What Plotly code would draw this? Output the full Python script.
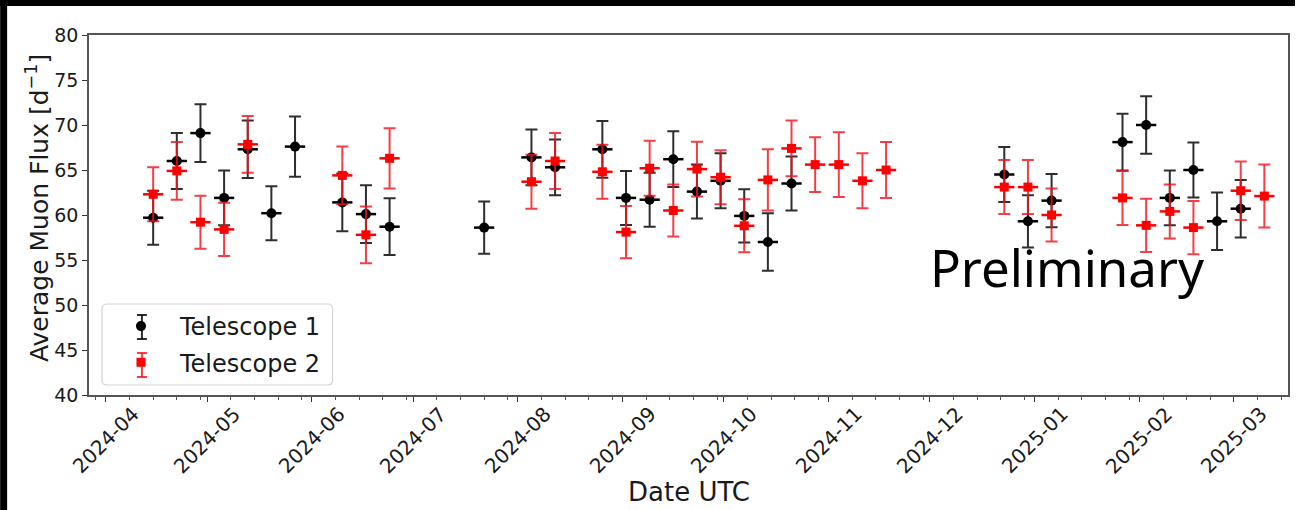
import plotly.graph_objects as go
import pandas as pd

# ---------------- data ----------------
t1_dates = ["2024-04-15", "2024-04-22", "2024-04-29", "2024-05-06", "2024-05-13", "2024-05-20",
            "2024-05-27", "2024-06-10", "2024-06-17", "2024-06-24", "2024-07-22", "2024-08-05",
            "2024-08-12", "2024-08-26", "2024-09-02", "2024-09-09", "2024-09-16", "2024-09-23",
            "2024-09-30", "2024-10-07", "2024-10-14", "2024-10-21", "2024-12-23", "2024-12-30",
            "2025-01-06", "2025-01-27", "2025-02-03", "2025-02-10", "2025-02-17", "2025-02-24",
            "2025-03-03"]
t1_flux = [59.7, 66.0, 69.1, 61.9, 67.3, 60.2, 67.6, 61.4, 60.1, 58.7, 58.6, 66.4,
           65.3, 67.3, 61.9, 61.7, 66.2, 62.6, 63.8, 59.9, 57.0, 63.5, 64.5, 59.3,
           61.6, 68.1, 70.0, 61.9, 65.0, 59.3, 60.7]
t1_err = [3.0, 3.1, 3.2, 3.05, 3.2, 3.0, 3.35, 3.2, 3.2, 3.15, 2.9, 3.1,
          3.1, 3.15, 3.0, 3.0, 3.1, 3.0, 3.05, 2.95, 3.2, 3.0, 3.05, 2.9,
          2.95, 3.15, 3.2, 3.05, 3.05, 3.2, 3.2]

t2_dates = ["2024-04-15", "2024-04-22", "2024-04-29", "2024-05-06", "2024-05-13", "2024-06-10",
            "2024-06-17", "2024-06-24", "2024-08-05", "2024-08-12", "2024-08-26", "2024-09-02",
            "2024-09-09", "2024-09-16", "2024-09-23", "2024-09-30", "2024-10-07", "2024-10-14",
            "2024-10-21", "2024-10-28", "2024-11-04", "2024-11-11", "2024-11-18", "2024-12-23",
            "2024-12-30", "2025-01-06", "2025-01-27", "2025-02-03", "2025-02-10", "2025-02-17",
            "2025-03-03", "2025-03-10"]
t2_flux = [62.3, 64.9, 59.2, 58.4, 67.85, 64.4, 57.8, 66.3, 63.7, 66.0, 64.8, 58.1,
           65.2, 60.5, 65.1, 64.2, 58.8, 63.9, 67.4, 65.6, 65.6, 63.8, 65.0, 63.1,
           63.1, 60.0, 61.9, 58.85, 60.4, 58.6, 62.7, 62.1]
t2_err = [3.0, 3.2, 2.95, 2.95, 3.15, 3.2, 3.15, 3.35, 3.0, 3.1, 3.0, 2.9,
          3.05, 2.9, 3.05, 3.0, 2.95, 3.4, 3.1, 3.05, 3.6, 3.05, 3.1, 3.0,
          3.0, 2.95, 3.0, 2.95, 3.0, 2.95, 3.25, 3.5]

bin_half_days = 3.0
month_ticks = ["2024-04-01", "2024-05-01", "2024-06-01", "2024-07-01", "2024-08-01", "2024-09-01",
               "2024-10-01", "2024-11-01", "2024-12-01", "2025-01-01", "2025-02-01", "2025-03-01"]
month_labels = ["2024-04", "2024-05", "2024-06", "2024-07", "2024-08", "2024-09",
                "2024-10", "2024-11", "2024-12", "2025-01", "2025-02", "2025-03"]
x_range = ["2024-03-27", "2025-03-17"]
y_range = [40, 80]
y_ticks = [40, 45, 50, 55, 60, 65, 70, 75, 80]

# minor ticks on days 1, 8, 15, 22, 29 of each month
minor_vals = []
for d in pd.date_range("2024-03-01", "2025-03-31", freq="D"):
    if d.day in (1, 8, 15, 22, 29):
        minor_vals.append(d.strftime("%Y-%m-%d"))

# ---------------- geometry ----------------
W, H = 1297, 510
L, R, T, B = 89, 7, 35, 115
PW = W - L - R
PH = H - T - B


def px_x(px):
    return (px - L) / PW


def px_y(py):
    return (H - B - py) / PH


def hbars(dates, vals, half):
    xs, ys = [], []
    for d, v in zip(dates, vals):
        c = pd.Timestamp(d)
        xs += [c - pd.Timedelta(days=half), c + pd.Timedelta(days=half), None]
        ys += [v, v, None]
    return xs, ys


fig = go.Figure()

hx1, hy1 = hbars(t1_dates, t1_flux, bin_half_days)
fig.add_trace(go.Scatter(x=hx1, y=hy1, mode="lines", line=dict(color="black", width=2.5),
                         showlegend=False, hoverinfo="skip"))
fig.add_trace(go.Scatter(
    x=t1_dates, y=t1_flux, mode="markers", name="Telescope 1", legendgroup="t1",
    marker=dict(symbol="circle", size=10, color="black"),
    error_y=dict(type="data", array=t1_err, visible=True, color="rgba(0,0,0,0.82)",
                 thickness=2, width=6),
))
hx2, hy2 = hbars(t2_dates, t2_flux, bin_half_days)
fig.add_trace(go.Scatter(x=hx2, y=hy2, mode="lines", line=dict(color="#ff0000", width=2.5),
                         showlegend=False, hoverinfo="skip"))
fig.add_trace(go.Scatter(
    x=t2_dates, y=t2_flux, mode="markers", name="Telescope 2", legendgroup="t2",
    marker=dict(symbol="square", size=9, color="#ff0000"),
    error_y=dict(type="data", array=t2_err, visible=True, color="rgba(240,20,30,0.82)",
                 thickness=2, width=6),
))

annotations = []
for tv, tl in zip(month_ticks, month_labels):
    annotations.append(dict(
        x=tv, y=px_y(440), xref="x", yref="paper", text=tl, showarrow=False,
        textangle=-45, xanchor="center", yanchor="middle",
        font=dict(family="DejaVu Sans", size=20, color="#1a1a1a"),
    ))
annotations.append(dict(
    x=px_x(690), y=px_y(492), xref="paper", yref="paper", text="Date UTC",
    showarrow=False, xanchor="center", yanchor="middle",
    font=dict(family="DejaVu Sans", size=26, color="#1a1a1a"),
))
annotations.append(dict(
    x=px_x(38), y=px_y(208), xref="paper", yref="paper",
    text="Average Muon Flux [d<sup>\u22121</sup>]",
    showarrow=False, textangle=-90, xanchor="center", yanchor="middle",
    font=dict(family="DejaVu Sans", size=25, color="#1a1a1a"),
))
annotations.append(dict(
    x=px_x(929), y=px_y(267), xref="paper", yref="paper", text="Preliminary",
    showarrow=False, xanchor="left", yanchor="middle",
    font=dict(family="Noto Sans", size=51, color="black"),
))


def rounded_box(x0, y0, x1, y1, r):
    X0, X1 = px_x(x0), px_x(x1)
    Y0, Y1 = px_y(y0), px_y(y1)
    rx, ry = r / PW, r / PH
    return (f"M {X0 + rx},{Y0} L {X1 - rx},{Y0} Q {X1},{Y0} {X1},{Y0 - ry} "
            f"L {X1},{Y1 + ry} Q {X1},{Y1} {X1 - rx},{Y1} L {X0 + rx},{Y1} "
            f"Q {X0},{Y1} {X0},{Y1 + ry} L {X0},{Y0 - ry} Q {X0},{Y0} {X0 + rx},{Y0} Z")


def legend_errbar(cx, cy, color):
    out = []
    seg = dict(type="line", xref="paper", yref="paper", layer="above",
               line=dict(color=color, width=2))
    out.append(dict(seg, x0=px_x(cx), x1=px_x(cx), y0=px_y(cy - 12), y1=px_y(cy + 12)))
    out.append(dict(seg, x0=px_x(cx - 5), x1=px_x(cx + 5), y0=px_y(cy - 12), y1=px_y(cy - 12)))
    out.append(dict(seg, x0=px_x(cx - 5), x1=px_x(cx + 5), y0=px_y(cy + 12), y1=px_y(cy + 12)))
    return out


shapes = [
    # black frame strips of the photographed page
    dict(type="rect", xref="paper", yref="paper", x0=px_x(0), x1=px_x(7),
         y0=px_y(H), y1=px_y(0), fillcolor="black", line=dict(width=0), layer="above"),
    dict(type="rect", xref="paper", yref="paper", x0=px_x(0), x1=px_x(W),
         y0=px_y(6), y1=px_y(0), fillcolor="black", line=dict(width=0), layer="above"),
    # legend frame (rounded, like matplotlib)
    dict(type="path", xref="paper", yref="paper", path=rounded_box(102, 304, 333, 385, 5),
         fillcolor="rgba(255,255,255,0.9)", line=dict(color="#d4d4d4", width=1.2), layer="above"),
]
shapes += legend_errbar(142, 327, "rgba(0,0,0,0.82)")
shapes += legend_errbar(142, 365, "rgba(240,20,30,0.82)")

fig.update_layout(
    width=W, height=H,
    margin=dict(l=L, r=R, t=T, b=B, pad=0),
    paper_bgcolor="white", plot_bgcolor="white",
    showlegend=True,
    legend=dict(x=px_x(102), y=px_y(304), xanchor="left", yanchor="top",
                bgcolor="rgba(0,0,0,0)", borderwidth=0,
                font=dict(family="DejaVu Sans", size=24, color="#1a1a1a"),
                itemwidth=68, tracegroupgap=2),
    annotations=annotations,
    shapes=shapes,
    font=dict(family="DejaVu Sans"),
)
fig.update_xaxes(
    type="date", range=x_range, showgrid=False, zeroline=False,
    showline=True, linecolor="#555555", linewidth=1.5, mirror=True,
    tickmode="array", tickvals=month_ticks, showticklabels=False,
    ticks="outside", ticklen=5, tickwidth=1.2, tickcolor="#333333",
    minor=dict(tickmode="array", tickvals=minor_vals, ticks="outside", ticklen=3,
               tickwidth=1, tickcolor="#555555", showgrid=False),
)
fig.update_yaxes(
    range=y_range, showgrid=False, zeroline=False,
    showline=True, linecolor="#555555", linewidth=1.5, mirror=True,
    tickmode="array", tickvals=y_ticks,
    ticks="outside", ticklen=5, tickwidth=1.2, tickcolor="#333333",
    tickfont=dict(family="DejaVu Sans", size=19, color="#1a1a1a"),
)

fig.write_html("out.html")
